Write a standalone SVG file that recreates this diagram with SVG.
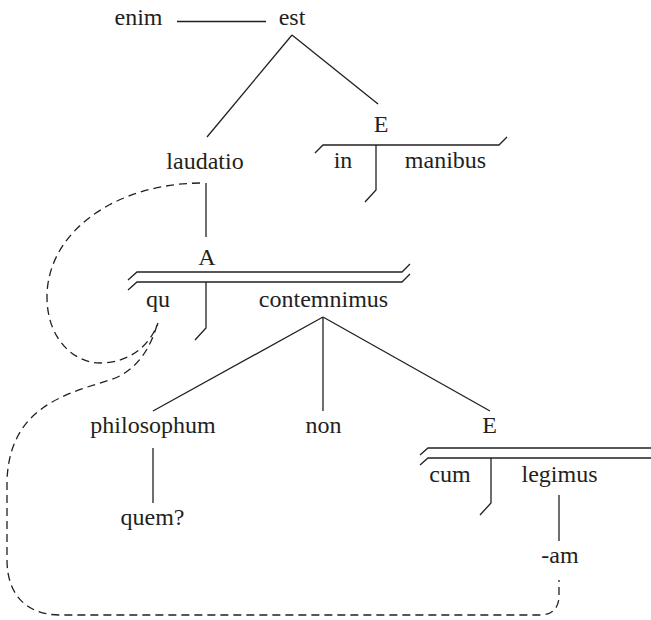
<svg xmlns="http://www.w3.org/2000/svg" width="651" height="620" viewBox="0 0 651 620">
<style>
text{font-family:"Liberation Serif","Times New Roman",serif;font-size:24px;fill:#231f20;text-anchor:middle}
.ln{stroke:#231f20;stroke-width:1.3;fill:none}
.dash{stroke:#231f20;stroke-width:1.3;fill:none;stroke-dasharray:8 5}
</style>
<rect width="651" height="620" fill="#ffffff"/>
<g id="connectors">
<line class="ln" x1="177" y1="21.5" x2="266" y2="21.5"/>
<line class="ln" x1="292" y1="35" x2="207" y2="137"/>
<line class="ln" x1="292" y1="35" x2="378" y2="104"/>
<path class="ln" d="M315,153 L323,145 L499,145 L507,137"/>
<path class="ln" d="M376,145 L376,190 L365,202"/>
<line class="ln" x1="206" y1="183" x2="206" y2="237"/>
<path class="ln" d="M128,280 L137,272 L402,272 L410,264"/>
<path class="ln" d="M128,290 L137,282 L402,282 L410,274"/>
<path class="ln" d="M206,282 L206,328 L195,340"/>
<line class="ln" x1="323" y1="317" x2="153" y2="411"/>
<line class="ln" x1="323" y1="317" x2="323" y2="411"/>
<line class="ln" x1="323" y1="317" x2="490" y2="411"/>
<path class="ln" d="M420,455 L428,448 L651,448"/>
<path class="ln" d="M420,465 L428,458 L651,458"/>
<path class="ln" d="M491,458 L491,503 L480,515"/>
<line class="ln" x1="153" y1="448" x2="153" y2="503"/>
<line class="ln" x1="559" y1="495" x2="559" y2="541"/>
<path class="dash" d="M200,183 C115,184 47,232 47,297 C47,340 75,363 100,363 C130,363 150,345 158,323"/>
<path class="dash" d="M157,325 C150,350 135,372 110,380 C60,395 10,410 7,480 L7,560 C7,595 27,615 60,615 L540,615 C553,615 559,607 559,596 L559,580"/>
</g>
<g id="n-enim"><text x="138.5" y="25">enim</text></g>
<g id="n-est"><text x="292" y="25">est</text></g>
<g id="n-E1"><text x="381" y="132">E</text></g>
<g id="n-laudatio"><text x="205" y="169">laudatio</text></g>
<g id="n-in"><text x="343" y="168">in</text></g>
<g id="n-manibus"><text x="445.5" y="168">manibus</text></g>
<g id="n-A"><text x="207" y="265">A</text></g>
<g id="n-qu"><text x="158" y="307">qu</text></g>
<g id="n-contemnimus"><text x="323.5" y="307">contemnimus</text></g>
<g id="n-philosophum"><text x="153" y="433">philosophum</text></g>
<g id="n-non"><text x="323.5" y="433">non</text></g>
<g id="n-E2"><text x="489.5" y="433">E</text></g>
<g id="n-cum"><text x="450" y="482">cum</text></g>
<g id="n-legimus"><text x="559.5" y="482">legimus</text></g>
<g id="n-quem"><text x="152.5" y="525">quem?</text></g>
<g id="n-am"><text x="560" y="563">-am</text></g>
</svg>
